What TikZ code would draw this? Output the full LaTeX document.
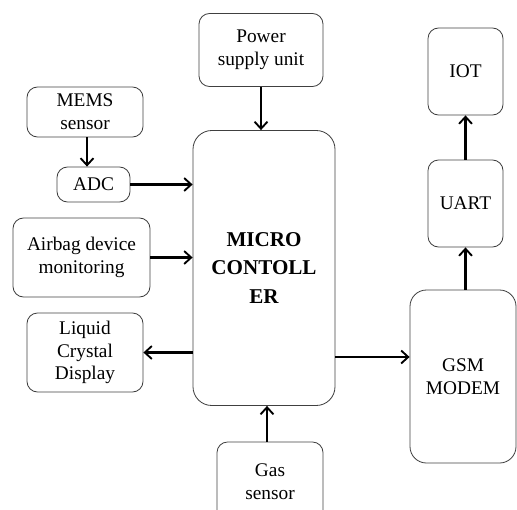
\documentclass[tikz,border=0pt]{standalone}
\usepackage{fontspec}
\setmainfont{Liberation Serif}
\usetikzlibrary{arrows.meta}
\begin{document}
\begin{tikzpicture}[x=0.03cm, y=-0.03cm,
  block/.style={draw=black!75, line width=0.7pt, rounded corners=9pt, align=center,
    font=\fontsize{16.5}{19.5}\selectfont, inner sep=0pt},
  arr/.style={line width=2pt, -{Straight Barb[length=6pt, width=11pt, line width=1.6pt]}}]

\useasboundingbox (0,0) rectangle (517,509);

\node[block, minimum width=124*0.03cm, minimum height=73*0.03cm] (psu) at (261, 50) {Power\\supply unit};
\node[block, minimum width=142*0.03cm, minimum height=275*0.03cm, rounded corners=16pt,
  font=\fontsize{18}{24}\selectfont\bfseries] (mc) at (264, 268) {MICRO\\CONTOLL\\ER};
\node[block, minimum width=116*0.03cm, minimum height=50*0.03cm] (mems) at (85, 112) {MEMS\\sensor};
\node[block, minimum width=73*0.03cm, minimum height=35*0.03cm] (adc) at (93.5, 184.5) {ADC};
\node[block, minimum width=137*0.03cm, minimum height=79*0.03cm] (airbag) at (81.5, 257.5) {Airbag device\\monitoring};
\node[block, minimum width=116*0.03cm, minimum height=79*0.03cm] (lcd) at (85, 352.5) {Liquid\\Crystal\\Display};
\node[block, minimum width=106*0.03cm, minimum height=173*0.03cm, rounded corners=14pt] (gsm) at (463, 376.5) {GSM\\MODEM};
\node[block, minimum width=75*0.03cm, minimum height=87*0.03cm] (uart) at (465.5, 203.5) {UART};
\node[block, minimum width=75*0.03cm, minimum height=87*0.03cm] (iot) at (465.5, 71.5) {IOT};
\node[block, minimum width=106*0.03cm, minimum height=80*0.03cm] (gas) at (270, 482) {Gas\\sensor};

\coordinate (link) at (335, 357);

\draw[arr] (psu.south) -- (psu.south |- mc.north);
\draw[arr] (mems.south -| 87,0) -- (adc.north -| 87,0);
\draw[arr] (adc.east) -- (adc.east -| mc.west);
\draw[arr] (airbag.east) -- (airbag.east -| mc.west);
\draw[arr] (mc.west |- lcd.east) -- (lcd.east);
\draw[arr] (link) -- (link -| gsm.west);
\draw[arr] (gsm.north -| uart.south) -- (uart.south);
\draw[arr] (uart.north) -- (iot.south);
\draw[arr] (gas.north -| 267,0) -- (mc.south -| 267,0);

\end{tikzpicture}
\end{document}
